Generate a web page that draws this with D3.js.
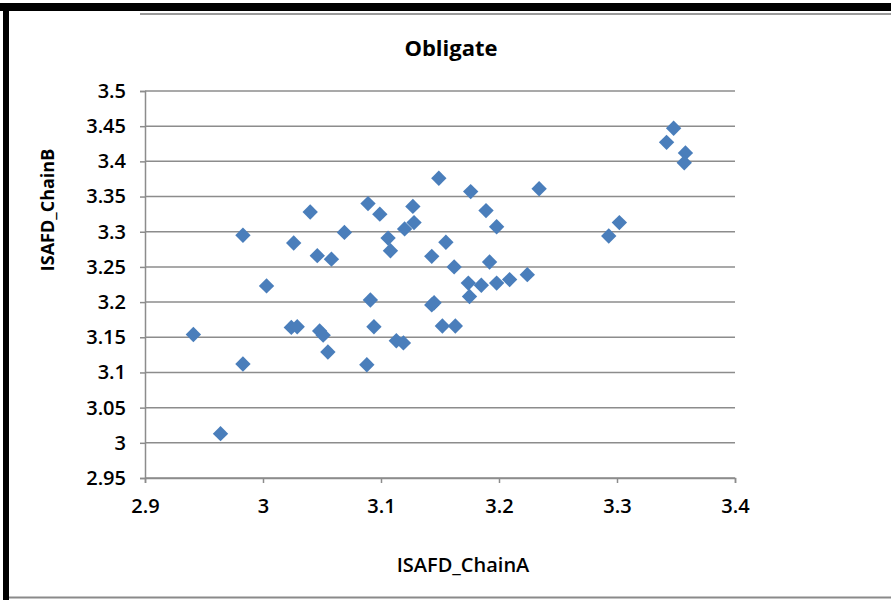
<!DOCTYPE html>
<html>
<head>
<meta charset="utf-8">
<script src="https://cdn.jsdelivr.net/npm/d3@7"></script>
<style>
  html, body { margin: 0; padding: 0; background: #fff; }
  svg { display: block; }
  text { font-family: "Open Sans", "Noto Sans", sans-serif; fill: #000; }
</style>
</head>
<body>
<svg id="chart" width="891" height="600"></svg>
<script>
const chartTitle = "Obligate";
const xTitle = "ISAFD_ChainA";
const yTitle = "ISAFD_ChainB";

const xTicks = [2.9, 3.0, 3.1, 3.2, 3.3, 3.4];
const yTicks = [2.95, 3.0, 3.05, 3.1, 3.15, 3.2, 3.25, 3.3, 3.35, 3.4, 3.45, 3.5];
const xTickLabels = ["2.9", "3", "3.1", "3.2", "3.3", "3.4"];
const yTickLabels = ["2.95", "3", "3.05", "3.1", "3.15", "3.2", "3.25", "3.3", "3.35", "3.4", "3.45", "3.5"];

const chainA = [2.941, 2.964, 2.983, 2.983, 3.003, 3.026, 3.024, 3.029, 3.040, 3.046,
                3.048, 3.051, 3.055, 3.058, 3.069, 3.089, 3.088, 3.091, 3.094, 3.099,
                3.106, 3.108, 3.113, 3.119, 3.120, 3.127, 3.128, 3.143, 3.143, 3.145,
                3.149, 3.152, 3.155, 3.162, 3.163, 3.174, 3.175, 3.176, 3.185, 3.189,
                3.192, 3.198, 3.198, 3.209, 3.224, 3.234, 3.293, 3.302, 3.342, 3.348,
                3.358, 3.357];
const chainB = [3.154, 3.013, 3.295, 3.112, 3.223, 3.284, 3.164, 3.165, 3.328, 3.266,
                3.159, 3.153, 3.129, 3.261, 3.299, 3.340, 3.111, 3.203, 3.165, 3.325,
                3.291, 3.273, 3.145, 3.142, 3.304, 3.336, 3.313, 3.265, 3.196, 3.199,
                3.376, 3.166, 3.285, 3.250, 3.166, 3.227, 3.208, 3.357, 3.224, 3.330,
                3.257, 3.307, 3.227, 3.232, 3.239, 3.361, 3.294, 3.313, 3.427, 3.447,
                3.412, 3.398];

const svg = d3.select("#chart");

// frame
svg.append("rect").attr("x", 0).attr("y", 3).attr("width", 891).attr("height", 8).attr("fill", "#000");
svg.append("rect").attr("x", 3).attr("y", 3).attr("width", 6).attr("height", 597).attr("fill", "#000");
svg.append("line").attr("x1", 140).attr("x2", 891).attr("y1", 14).attr("y2", 14)
   .attr("stroke", "#9a9a9a").attr("stroke-width", 2);
svg.append("line").attr("x1", 9).attr("x2", 891).attr("y1", 597.5).attr("y2", 597.5)
   .attr("stroke", "#8a8a8a").attr("stroke-width", 2);

const x = d3.scaleLinear().domain([2.9, 3.4]).range([145, 735]);
const y = d3.scaleLinear().domain([2.95, 3.5]).range([478, 91]);

// gridlines
svg.append("g").selectAll("line").data(yTicks).join("line")
  .attr("x1", x(2.9)).attr("x2", x(3.4))
  .attr("y1", d => y(d)).attr("y2", d => y(d))
  .attr("stroke", "#8c8c8c").attr("stroke-width", 1.5);

// y axis
const yAxis = d3.axisLeft(y).tickValues(yTicks).tickSize(5)
  .tickFormat((d, i) => yTickLabels[i]).tickPadding(14);
const gy = svg.append("g").attr("transform", `translate(${x(2.9)},0)`).call(yAxis);
gy.select(".domain").attr("stroke", "#8c8c8c").attr("stroke-width", 1.5);
gy.selectAll(".tick line").attr("stroke", "#8c8c8c").attr("stroke-width", 1.5);
gy.selectAll(".tick text").attr("font-size", 20).attr("font-weight", 600).attr("fill", "#111")
  .style("font-family", '"Open Sans", sans-serif');

// x axis
const xAxis = d3.axisBottom(x).tickValues(xTicks).tickSize(5)
  .tickFormat((d, i) => xTickLabels[i]).tickPadding(16);
const gx = svg.append("g").attr("transform", `translate(0,${y(2.95)})`).call(xAxis);
gx.select(".domain").attr("stroke", "#8c8c8c").attr("stroke-width", 1.5);
gx.selectAll(".tick line").attr("stroke", "#8c8c8c").attr("stroke-width", 1.5);
gx.selectAll(".tick text").attr("font-size", 20).attr("font-weight", 600).attr("fill", "#111")
  .style("font-family", '"Open Sans", sans-serif');

// points
const pts = chainA.map((a, i) => ({a, b: chainB[i]}));
const diamond = d3.symbol().type(d3.symbolSquare).size(118)();
svg.append("g").selectAll("path").data(pts).join("path")
  .attr("d", diamond)
  .attr("transform", d => `translate(${x(d.a)},${y(d.b)}) rotate(45)`)
  .attr("fill", "#4A7EBB");

// titles
svg.append("text").attr("x", 451).attr("y", 56).attr("text-anchor", "middle")
  .attr("font-size", 22).attr("font-weight", "bold").text(chartTitle);
svg.append("text").attr("x", 463).attr("y", 572).attr("text-anchor", "middle")
  .attr("font-size", 20).attr("font-weight", 600).text(xTitle);
svg.append("text").attr("transform", "translate(54,210) rotate(-90)").attr("text-anchor", "middle")
  .attr("font-size", 18).attr("font-weight", "bold").text(yTitle);
</script>
</body>
</html>
